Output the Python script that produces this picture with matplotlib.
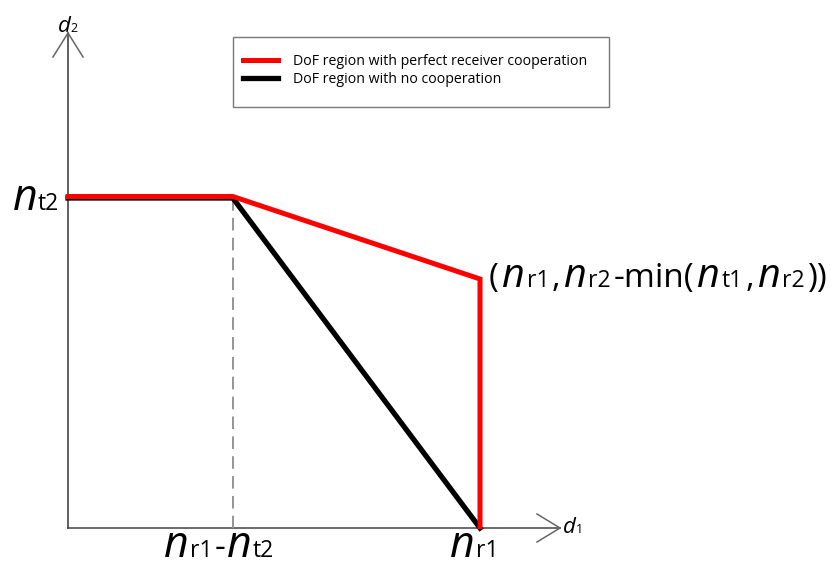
import matplotlib
matplotlib.use("Agg")
import matplotlib.pyplot as plt
from matplotlib.patches import Rectangle
from matplotlib.transforms import offset_copy

# corner points of the two DoF regions (units of antennas)
nr1 = 5.0
nt2 = 3.0
corner_d2 = 2.25  # nr2 - min(nt1, nr2)

coop_d1 = [0, nr1 - nt2, nr1, nr1]
coop_d2 = [nt2, nt2, corner_d2, 0]
nocoop_d1 = [0, nr1 - nt2, nr1]
nocoop_d2 = [nt2, nt2, 0]

legend_labels = ["DoF region with perfect receiver cooperation",
                 "DoF region with no cooperation"]

W, H, DPI = 835, 567, 100
plt.rcParams['font.family'] = ['Open Sans', 'DejaVu Sans']

fig = plt.figure(figsize=(W / DPI, H / DPI), dpi=DPI)
ax = fig.add_axes([0, 0, 1, 1])
ax.set_axis_off()

# origin sits at pixel (68, 528); 82.4 px per unit on d1, 110 px per unit on d2
ox, oy, sx, sy = 68, 528, 82.4, 110.0
ax.set_xlim(-ox / sx, (W - ox) / sx)
ax.set_ylim(-(H - oy) / sy, oy / sy)

# axes with open arrowheads
axis_col = "#6a6a6a"
x_end, y_end = (560 - ox) / sx, (oy - 33) / sy
ax.plot([0, x_end], [0, 0], color=axis_col, lw=1.4, zorder=1)
ax.plot([0, 0], [0, y_end], color="#444444", lw=1.2, zorder=1)
ax.plot([x_end - 23 / sx, x_end, x_end - 23 / sx], [14 / sy, 0, -14 / sy],
        color="#666666", lw=1.1, zorder=1)
ax.plot([-15 / sx, 0, 15 / sx], [y_end - 24 / sy, y_end, y_end - 24 / sy],
        color="#666666", lw=1.1, zorder=1)

# guide from the corner down to the d1 axis
ax.plot([nr1 - nt2, nr1 - nt2], [nt2, 0], color="#8c8c8c", lw=1.3,
        dashes=(7, 4), zorder=1)

h_black, = ax.plot(nocoop_d1, nocoop_d2, color="black", lw=3.8,
                   solid_joinstyle="miter", zorder=2)
# red outline sits a pixel higher so the black edge peeks out underneath
h_red, = ax.plot(coop_d1, coop_d2, color="#ff0000", lw=3.6,
                 solid_joinstyle="miter", zorder=3,
                 transform=offset_copy(ax.transData, fig=fig, x=0, y=1.5, units="dots"))

# legend in a plain box
fig.patches.append(Rectangle((233 / W, 1 - 107 / H), (609 - 233) / W, (107 - 37) / H,
                             transform=fig.transFigure, fill=False,
                             edgecolor="#7a7a7a", lw=1.0))
ax.legend([h_red, h_black], legend_labels, loc="upper left",
          bbox_to_anchor=(243 / W, 1 - 54 / H), bbox_transform=fig.transFigure,
          frameon=False, fontsize=10.2, handlelength=2.5, handletextpad=1.0,
          labelspacing=0.2, borderaxespad=0, borderpad=0)

renderer = fig.canvas.get_renderer()


def rich_label(x, y, pieces, dx=0, dy=0, ha="left", gap=0):
    """Draw a row of text pieces on a shared baseline, anchored at data (x, y)."""
    texts = []
    widths = []
    for s, size, style in pieces:
        t = ax.text(x, y, s, fontsize=size, style=style, va="baseline",
                    ha="left", color="black")
        texts.append(t)
        widths.append(t.get_window_extent(renderer).width * 72 / DPI + gap * 72 / DPI)
    total = sum(widths)
    start = dx * 72 / DPI
    if ha == "right":
        start -= total
    elif ha == "center":
        start -= total / 2
    pos = start
    for t, w in zip(texts, widths):
        t.set_transform(offset_copy(ax.transData, fig=fig, x=pos, y=dy * 72 / DPI,
                                    units="points"))
        pos += w
    return texts


BIG, SUB = 31, 16.5
rich_label(0, nt2, [("n", BIG, "italic"), ("t2", SUB, "normal")], dx=-9, dy=-12, ha="right")
rich_label(nr1 - nt2, 0, [("n", BIG, "italic"), ("r1", SUB, "normal"), ("-", 24, "normal"),
                          ("n", BIG, "italic"), ("t2", SUB, "normal")],
           dx=-13, dy=-29, ha="center", gap=1.5)
rich_label(nr1, 0, [("n", BIG, "italic"), ("r1", SUB, "normal")], dx=-5, dy=-29,
           ha="center", gap=1)

MID, MSUB, NORM = 28.5, 16.5, 24
rich_label(nr1, corner_d2, [("(", NORM, "normal"), ("n", MID, "italic"), ("r1", MSUB, "normal"),
                            (",", NORM, "normal"), ("n", MID, "italic"), ("r2", MSUB, "normal"),
                            ("-min(", NORM, "normal"), ("n", MID, "italic"), ("t1", MSUB, "normal"),
                            (",", NORM, "normal"), ("n", MID, "italic"), ("r2", MSUB, "normal"),
                            ("))", NORM, "normal")],
           dx=9, dy=-7, gap=2.5)

rich_label(0, y_end, [("d", 16, "italic"), ("2", 9, "normal")], dx=-10, dy=1)
rich_label(x_end, 0, [("d", 16, "italic"), ("1", 9, "normal")], dx=3, dy=-5)

fig.savefig("out.png", dpi=DPI)
